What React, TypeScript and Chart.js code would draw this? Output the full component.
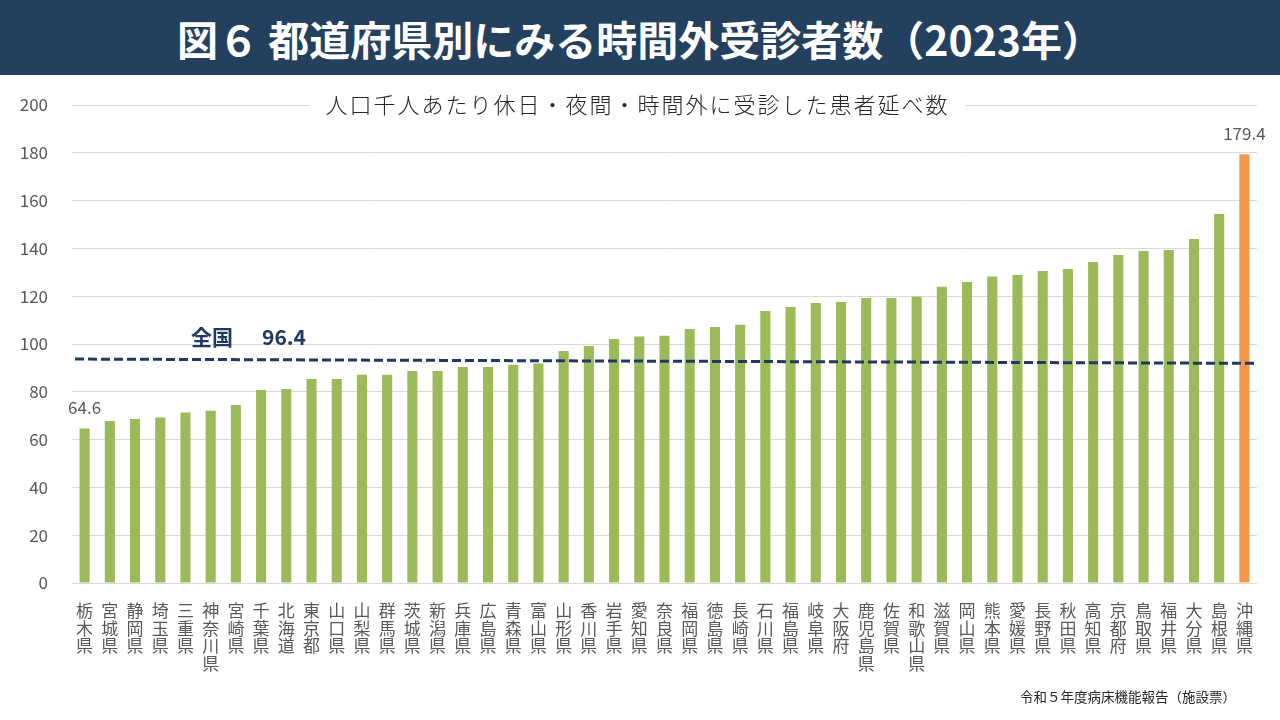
import React, { useEffect, useRef } from "react";
import { Chart, registerables } from "chart.js";

Chart.register(...registerables);

const titleText = "図６ 都道府県別にみる時間外受診者数（2023年）";
const subtitleText = "人口千人あたり休日・夜間・時間外に受診した患者延べ数";
const sourceText = "令和５年度病床機能報告（施設票）";

const prefectures = [
  "栃木県", "宮城県", "静岡県", "埼玉県", "三重県", "神奈川県", "宮崎県", "千葉県",
  "北海道", "東京都", "山口県", "山梨県", "群馬県", "茨城県", "新潟県", "兵庫県",
  "広島県", "青森県", "富山県", "山形県", "香川県", "岩手県", "愛知県", "奈良県",
  "福岡県", "徳島県", "長崎県", "石川県", "福島県", "岐阜県", "大阪府", "鹿児島県",
  "佐賀県", "和歌山県", "滋賀県", "岡山県", "熊本県", "愛媛県", "長野県", "秋田県",
  "高知県", "京都府", "鳥取県", "福井県", "大分県", "島根県", "沖縄県",
];

const values = [
  64.6, 67.8, 68.6, 69.2, 71.3, 72.1, 74.5, 80.8,
  81.2, 85.4, 85.4, 87.1, 87.1, 88.7, 88.7, 90.4,
  90.4, 91.3, 91.8, 97.1, 99.2, 102.1, 103.1, 103.5,
  106.3, 107.1, 108.1, 113.8, 115.5, 117.2, 117.6, 119.2,
  119.2, 119.8, 124.0, 125.9, 128.2, 128.9, 130.5, 131.4,
  134.3, 137.2, 138.9, 139.3, 143.9, 154.4, 179.4,
];

const highlightPrefecture = "沖縄県";
const labeledPrefectures = ["栃木県", "沖縄県"];

const nationalLabel = "全国";
const nationalValue = 96.4;
// where the drawn reference line sits at its left and right ends
const nationalLineStart = 93.7;
const nationalLineEnd = 91.9;

const yMin = 0;
const yMax = 200;
const yStep = 20;

const GREEN = "#9BBB59";
const ORANGE = "#F79646";
const NAVY = "#1F3864";
const GREY_TEXT = "#595959";
const GRID = "#D9D9D9";
const FONT = "'Noto Sans CJK JP', 'Noto Sans', sans-serif";

const CANVAS_TOP = 65;

const overlayPlugin = {
  id: "overlay",
  afterDatasetsDraw(chart: any) {
    const { ctx, chartArea, scales } = chart;
    const x = scales.x;
    const y = scales.y;
    ctx.save();

    // subtitle with white backing (covers top gridline)
    ctx.font = `300 22px ${FONT}`;
    (ctx as any).letterSpacing = "2px";
    const subW = ctx.measureText(subtitleText).width;
    const subCx = (chartArea.left + chartArea.right) / 2 - 27;
    const subY = y.getPixelForValue(yMax);
    ctx.fillStyle = "#FFFFFF";
    ctx.fillRect(subCx - subW / 2 - 16, subY - 16, subW + 32, 32);
    ctx.fillStyle = "#262626";
    ctx.textAlign = "center";
    ctx.textBaseline = "middle";
    ctx.fillText(subtitleText, subCx, subY);
    (ctx as any).letterSpacing = "0px";

    // national average dashed line
    ctx.strokeStyle = NAVY;
    ctx.lineWidth = 3;
    ctx.setLineDash([9, 4]);
    ctx.beginPath();
    ctx.moveTo(chartArea.left + 3, y.getPixelForValue(nationalLineStart));
    ctx.lineTo(chartArea.right, y.getPixelForValue(nationalLineEnd));
    ctx.stroke();
    ctx.setLineDash([]);

    // national label
    ctx.fillStyle = NAVY;
    ctx.font = `bold 21px ${FONT}`;
    ctx.textAlign = "left";
    ctx.textBaseline = "middle";
    const labY = y.getPixelForValue(nationalLineStart) - 22;
    ctx.fillText(nationalLabel, chartArea.left + 119, labY);
    ctx.fillText(nationalValue.toFixed(1), chartArea.left + 190, labY);

    // value labels
    ctx.fillStyle = GREY_TEXT;
    ctx.font = `17px ${FONT}`;
    ctx.textAlign = "center";
    labeledPrefectures.forEach((p) => {
      const i = prefectures.indexOf(p);
      const px = x.getPixelForValue(i);
      const py = y.getPixelForValue(values[i]);
      ctx.fillText(values[i].toFixed(1), px, py - 21);
    });

    // source
    ctx.fillStyle = "#262626";
    ctx.font = `13.5px ${FONT}`;
    ctx.textAlign = "right";
    ctx.fillText(sourceText, 1236, chart.height - 23);
    ctx.restore();
  },
};

export default function App() {
  const canvasRef = useRef<HTMLCanvasElement | null>(null);

  useEffect(() => {
    document.body.style.margin = "0";
    const canvas = canvasRef.current;
    if (!canvas) return;
    const chart = new Chart(canvas, {
      type: "bar",
      data: {
        labels: prefectures.map((p) => p.split("")),
        datasets: [
          {
            data: values,
            backgroundColor: prefectures.map((p) => (p === highlightPrefecture ? ORANGE : GREEN)),
            borderWidth: 0,
            categoryPercentage: 1,
            barPercentage: 0.4,
          },
        ],
      },
      options: {
        responsive: false,
        animation: false,
        devicePixelRatio: 1,
        layout: { padding: { top: 40, right: 23, bottom: 0, left: 0 } },
        plugins: {
          legend: { display: false },
          tooltip: { enabled: false },
          title: { display: false },
        },
        scales: {
          x: {
            grid: { display: false, drawTicks: false },
            border: { display: false },
            ticks: {
              autoSkip: false,
              maxRotation: 0,
              minRotation: 0,
              padding: 19,
              color: GREY_TEXT,
              font: { family: FONT, size: 17, lineHeight: 1.03 },
            },
            afterFit: (scale: any) => {
              scale.height = 137;
            },
          },
          y: {
            min: yMin,
            max: yMax,
            ticks: {
              stepSize: yStep,
              padding: 24,
              color: GREY_TEXT,
              font: { family: FONT, size: 17 },
            },
            grid: { color: GRID, lineWidth: 1, drawTicks: false },
            border: { display: false },
            afterFit: (scale: any) => {
              scale.width = 72;
            },
          },
        },
      },
      plugins: [overlayPlugin],
    });
    return () => chart.destroy();
  }, []);

  return (
    <div
      style={{
        position: "absolute",
        left: 0,
        top: 0,
        width: 1280,
        height: 720,
        background: "#FFFFFF",
        overflow: "hidden",
      }}
    >
      <canvas
        ref={canvasRef}
        width={1280}
        height={720 - CANVAS_TOP}
        style={{ position: "absolute", left: 0, top: CANVAS_TOP }}
      />
      <div
        style={{
          position: "absolute",
          left: 0,
          top: 0,
          width: 1280,
          zIndex: 1,
          height: 75,
          background: "#24405F",
          color: "#FFFFFF",
          display: "flex",
          alignItems: "center",
          justifyContent: "center",
          fontFamily: FONT,
          fontWeight: 700,
          fontSize: 41,
          boxSizing: "border-box",
        }}
      >
        {titleText}
      </div>
    </div>
  );
}
